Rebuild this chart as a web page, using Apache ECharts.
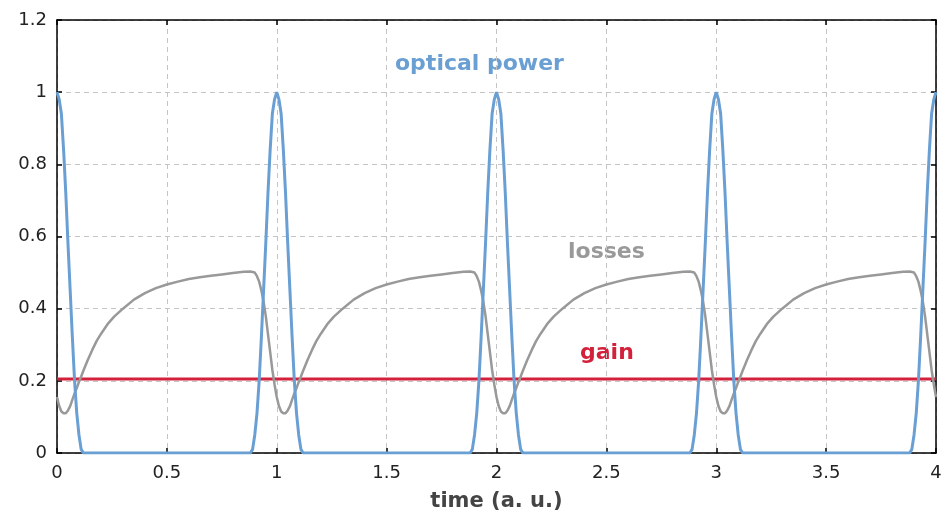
<!DOCTYPE html>
<html><head><meta charset="utf-8">
<script src="https://cdn.jsdelivr.net/npm/echarts@6/dist/echarts.min.js"></script>
<style>html,body{margin:0;padding:0;background:#fff}#c{width:945px;height:521px}</style>
</head><body><div id="c"></div>
<script>
// optical power (time, value)
const powerT = [
0,0.01,0.02,0.03,0.04,0.05,0.06,0.07,0.08,0.09,0.10,0.11,0.12,
0.88,0.89,0.90,0.91,0.92,0.93,0.94,0.95,0.96,0.97,0.98,0.99,1.00,1.01,1.02,1.03,1.04,1.05,1.06,1.07,1.08,1.09,1.10,1.11,1.12,
1.88,1.89,1.90,1.91,1.92,1.93,1.94,1.95,1.96,1.97,1.98,1.99,2.00,2.01,2.02,2.03,2.04,2.05,2.06,2.07,2.08,2.09,2.10,2.11,2.12,
2.88,2.89,2.90,2.91,2.92,2.93,2.94,2.95,2.96,2.97,2.98,2.99,3.00,3.01,3.02,3.03,3.04,3.05,3.06,3.07,3.08,3.09,3.10,3.11,3.12,
3.88,3.89,3.90,3.91,3.92,3.93,3.94,3.95,3.96,3.97,3.98,3.99,4.00];
const powerV = [
1,0.98,0.94,0.84,0.72,0.58,0.45,0.32,0.2,0.11,0.05,0.01,0,
0,0.01,0.05,0.11,0.2,0.32,0.45,0.58,0.72,0.84,0.94,0.98,1,0.98,0.94,0.84,0.72,0.58,0.45,0.32,0.2,0.11,0.05,0.01,0,
0,0.01,0.05,0.11,0.2,0.32,0.45,0.58,0.72,0.84,0.94,0.98,1,0.98,0.94,0.84,0.72,0.58,0.45,0.32,0.2,0.11,0.05,0.01,0,
0,0.01,0.05,0.11,0.2,0.32,0.45,0.58,0.72,0.84,0.94,0.98,1,0.98,0.94,0.84,0.72,0.58,0.45,0.32,0.2,0.11,0.05,0.01,0,
0,0.01,0.05,0.11,0.2,0.32,0.45,0.58,0.72,0.84,0.94,0.98,1];

// losses (time, value)
const lossT = [
0,0.01,0.02,0.03,0.04,0.05,0.06,0.07,0.08,0.09,0.10,0.11,0.12,0.14,0.16,0.18,0.20,0.23,0.26,0.30,0.35,0.40,0.45,0.50,0.55,0.60,0.65,0.70,0.75,0.80,0.85,0.88,0.90,0.91,0.92,0.93,0.94,0.95,0.96,0.97,0.98,0.99,
1.00,1.01,1.02,1.03,1.04,1.05,1.06,1.07,1.08,1.09,1.10,1.11,1.12,1.14,1.16,1.18,1.20,1.23,1.26,1.30,1.35,1.40,1.45,1.50,1.55,1.60,1.65,1.70,1.75,1.80,1.85,1.88,1.90,1.91,1.92,1.93,1.94,1.95,1.96,1.97,1.98,1.99,
2.00,2.01,2.02,2.03,2.04,2.05,2.06,2.07,2.08,2.09,2.10,2.11,2.12,2.14,2.16,2.18,2.20,2.23,2.26,2.30,2.35,2.40,2.45,2.50,2.55,2.60,2.65,2.70,2.75,2.80,2.85,2.88,2.90,2.91,2.92,2.93,2.94,2.95,2.96,2.97,2.98,2.99,
3.00,3.01,3.02,3.03,3.04,3.05,3.06,3.07,3.08,3.09,3.10,3.11,3.12,3.14,3.16,3.18,3.20,3.23,3.26,3.30,3.35,3.40,3.45,3.50,3.55,3.60,3.65,3.70,3.75,3.80,3.85,3.88,3.90,3.91,3.92,3.93,3.94,3.95,3.96,3.97,3.98,3.99,
4.00];
const lossV = [
0.155,0.13,0.115,0.11,0.11,0.118,0.13,0.148,0.165,0.18,0.197,0.212,0.228,0.258,0.285,0.31,0.33,0.357,0.378,0.40,0.425,0.443,0.457,0.467,0.475,0.482,0.487,0.491,0.495,0.499,0.502,0.503,0.50,0.49,0.475,0.45,0.42,0.38,0.33,0.28,0.23,0.19,
0.155,0.13,0.115,0.11,0.11,0.118,0.13,0.148,0.165,0.18,0.197,0.212,0.228,0.258,0.285,0.31,0.33,0.357,0.378,0.40,0.425,0.443,0.457,0.467,0.475,0.482,0.487,0.491,0.495,0.499,0.502,0.503,0.50,0.49,0.475,0.45,0.42,0.38,0.33,0.28,0.23,0.19,
0.155,0.13,0.115,0.11,0.11,0.118,0.13,0.148,0.165,0.18,0.197,0.212,0.228,0.258,0.285,0.31,0.33,0.357,0.378,0.40,0.425,0.443,0.457,0.467,0.475,0.482,0.487,0.491,0.495,0.499,0.502,0.503,0.50,0.49,0.475,0.45,0.42,0.38,0.33,0.28,0.23,0.19,
0.155,0.13,0.115,0.11,0.11,0.118,0.13,0.148,0.165,0.18,0.197,0.212,0.228,0.258,0.285,0.31,0.33,0.357,0.378,0.40,0.425,0.443,0.457,0.467,0.475,0.482,0.487,0.491,0.495,0.499,0.502,0.503,0.50,0.49,0.475,0.45,0.42,0.38,0.33,0.28,0.23,0.19,
0.155];

// gain (constant)
const gainT = [0, 4];
const gainV = [0.205, 0.205];

const xTicks = ['0','0.5','1','1.5','2','2.5','3','3.5','4'];
const yTicks = ['0','0.2','0.4','0.6','0.8','1','1.2'];
const labels = {power: 'optical power', losses: 'losses', gain: 'gain', xName: 'time (a. u.)'};

const zip = (a, b) => a.map((t, i) => [t, b[i]]);
const FONT = 'DejaVu Sans';
const chart = echarts.init(document.getElementById('c'), null, {renderer: 'canvas'});
const gridLine = {show: true, lineStyle: {color: '#c4c4c4', type: [5, 4], width: 1}};
const baseAxis = {
  axisLine: {show: true, onZero: false, lineStyle: {color: '#000', width: 1.5}},
  axisTick: {show: true, inside: true, length: 5, lineStyle: {color: '#000', width: 1.5}}
};
chart.setOption({
  animation: false,
  grid: {left: 57, right: 9, top: 20, bottom: 68, containLabel: false},
  xAxis: [
    Object.assign({type: 'value', min: 0, max: 4, interval: 0.5,
      name: labels.xName, nameLocation: 'middle', nameGap: 38,
      nameTextStyle: {fontFamily: FONT, fontSize: 21, fontWeight: 'bold', color: '#444'},
      axisLabel: {fontFamily: FONT, fontSize: 18, color: '#222', margin: 11,
        formatter: v => xTicks[Math.round(v / 0.5)]},
      splitLine: gridLine}, baseAxis),
    Object.assign({type: 'value', min: 0, max: 4, interval: 0.5, position: 'top',
      axisLabel: {show: false}, splitLine: {show: false}}, baseAxis)
  ],
  yAxis: [
    Object.assign({type: 'value', min: 0, max: 1.2, interval: 0.2,
      axisLabel: {fontFamily: FONT, fontSize: 18, color: '#222', margin: 10,
        formatter: v => yTicks[Math.round(v / 0.2)]},
      splitLine: gridLine}, baseAxis),
    Object.assign({type: 'value', min: 0, max: 1.2, interval: 0.2, position: 'right',
      axisLabel: {show: false}, splitLine: {show: false}}, baseAxis)
  ],
  series: [
    {type: 'line', name: 'gain', data: zip(gainT, gainV), showSymbol: false,
      lineStyle: {color: '#d3213c', width: 3}, z: 3},
    {type: 'line', name: 'losses', data: zip(lossT, lossV), showSymbol: false,
      lineStyle: {color: '#999999', width: 2.5}, z: 4},
    {type: 'line', name: 'optical power', data: zip(powerT, powerV), showSymbol: false,
      lineStyle: {color: '#6a9fd4', width: 3}, z: 5}
  ],
  graphic: [
    {type: 'text', x: 395, y: 53, style: {text: labels.power, fill: '#6a9fd4', font: 'bold 22px "DejaVu Sans"', verticalAlign: 'top'}},
    {type: 'text', x: 568, y: 241, style: {text: labels.losses, fill: '#999999', font: 'bold 22px "DejaVu Sans"', verticalAlign: 'top'}},
    {type: 'text', x: 580, y: 342, style: {text: labels.gain, fill: '#d3213c', font: 'bold 22px "DejaVu Sans"', verticalAlign: 'top'}}
  ]
});
</script>
</body></html>
